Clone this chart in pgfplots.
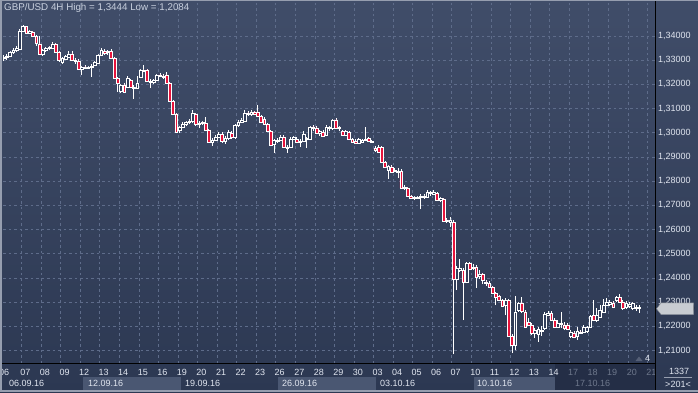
\documentclass[border=0pt]{standalone}
\usepackage{fontspec}
\setmainfont{Liberation Sans}
\usepackage{pgfplots}
\usepackage{pgfplotstable}
\pgfplotsset{compat=1.18}
\definecolor{bgtop}{RGB}{64,77,105}
\definecolor{bgbot}{RGB}{44,56,82}
\definecolor{gridc}{RGB}{94,108,138}
\definecolor{txt}{RGB}{225,230,240}
\definecolor{titletxt}{RGB}{200,208,222}
\definecolor{dimtxt}{RGB}{110,120,140}
\definecolor{boxc}{RGB}{74,87,114}
\definecolor{dimbg}{RGB}{36,46,70}
\definecolor{tagc}{RGB}{200,204,210}
\definecolor{tagborder}{RGB}{120,125,135}
\definecolor{bullfill}{RGB}{50,62,90}
\definecolor{bear}{RGB}{230,20,60}
\definecolor{framec}{RGB}{150,158,175}
\definecolor{tric}{RGB}{85,95,118}
\newcommand{\fsz}{\fontsize{9}{10}\selectfont}

\pgfplotstableread{
k O H L C
0 1.3309 1.3322 1.3297 1.3313
1 1.3313 1.3326 1.3301 1.3317
2 1.3317 1.3338 1.3313 1.3334
3 1.3334 1.3350 1.3326 1.3342
4 1.3342 1.3359 1.3334 1.3350
5 1.3346 1.3429 1.3342 1.3421
6 1.3421 1.3444 1.3417 1.3441
7 1.3441 1.3442 1.3408 1.3413
8 1.3413 1.3425 1.3408 1.3421
9 1.3417 1.3421 1.3396 1.3400
10 1.3400 1.3404 1.3359 1.3371
11 1.3367 1.3400 1.3322 1.3326
12 1.3326 1.3346 1.3317 1.3342
13 1.3342 1.3355 1.3334 1.3350
14 1.3350 1.3359 1.3342 1.3355
15 1.3350 1.3375 1.3346 1.3367
16 1.3367 1.3371 1.3330 1.3334
17 1.3334 1.3338 1.3293 1.3301
18 1.3293 1.3313 1.3284 1.3309
19 1.3305 1.3322 1.3301 1.3317
20 1.3313 1.3338 1.3309 1.3326
21 1.3326 1.3338 1.3297 1.3301
22 1.3301 1.3309 1.3284 1.3297
23 1.3297 1.3305 1.3260 1.3264
24 1.3264 1.3276 1.3239 1.3272
25 1.3272 1.3280 1.3264 1.3268
26 1.3268 1.3276 1.3264 1.3272
27 1.3272 1.3284 1.3231 1.3276
28 1.3280 1.3297 1.3276 1.3293
29 1.3288 1.3326 1.3284 1.3322
30 1.3322 1.3350 1.3317 1.3342
31 1.3338 1.3346 1.3322 1.3330
32 1.3334 1.3342 1.3322 1.3338
33 1.3338 1.3346 1.3305 1.3309
34 1.3309 1.3313 1.3222 1.3226
35 1.3226 1.3231 1.3169 1.3206
36 1.3173 1.3202 1.3164 1.3198
37 1.3198 1.3206 1.3164 1.3169
38 1.3189 1.3235 1.3185 1.3226
39 1.3218 1.3222 1.3185 1.3189
40 1.3189 1.3198 1.3140 1.3185
41 1.3185 1.3235 1.3181 1.3206
42 1.3231 1.3264 1.3226 1.3260
43 1.3255 1.3280 1.3251 1.3260
44 1.3260 1.3264 1.3210 1.3214
45 1.3214 1.3222 1.3185 1.3210
46 1.3210 1.3222 1.3202 1.3218
47 1.3218 1.3243 1.3214 1.3239
48 1.3239 1.3247 1.3231 1.3235
49 1.3235 1.3243 1.3222 1.3231
50 1.3239 1.3251 1.3202 1.3206
51 1.3206 1.3210 1.3127 1.3131
52 1.3131 1.3136 1.3074 1.3078
53 1.3078 1.3082 1.2999 1.3003
54 1.3012 1.3028 1.2999 1.3024
55 1.3024 1.3045 1.3020 1.3036
56 1.3036 1.3049 1.3028 1.3045
57 1.3045 1.3057 1.3036 1.3049
58 1.3049 1.3094 1.3040 1.3082
59 1.3078 1.3082 1.3028 1.3036
60 1.3036 1.3049 1.3020 1.3040
61 1.3040 1.3049 1.3032 1.3045
62 1.3040 1.3065 1.3007 1.3012
63 1.3012 1.3016 1.2958 1.2962
64 1.2962 1.2978 1.2945 1.2970
65 1.2970 1.2991 1.2966 1.2983
66 1.2983 1.3003 1.2978 1.2995
67 1.2995 1.3003 1.2958 1.2966
68 1.2966 1.2987 1.2954 1.2978
69 1.2978 1.3012 1.2970 1.3003
70 1.2999 1.3007 1.2974 1.2983
71 1.2983 1.3036 1.2974 1.3032
72 1.3032 1.3053 1.3024 1.3045
73 1.3045 1.3061 1.3040 1.3053
74 1.3049 1.3094 1.3045 1.3082
75 1.3082 1.3090 1.3069 1.3078
76 1.3078 1.3094 1.3069 1.3086
77 1.3086 1.3090 1.3074 1.3078
78 1.3086 1.3115 1.3065 1.3069
79 1.3069 1.3074 1.3040 1.3045
80 1.3057 1.3065 1.3032 1.3036
81 1.3036 1.3040 1.3003 1.3007
82 1.3007 1.3012 1.2945 1.2950
83 1.2954 1.2974 1.2917 1.2970
84 1.2966 1.2978 1.2958 1.2970
85 1.2970 1.2991 1.2966 1.2983
86 1.2983 1.2991 1.2937 1.2941
87 1.2941 1.2950 1.2917 1.2937
88 1.2941 1.2983 1.2937 1.2974
89 1.2974 1.2987 1.2970 1.2983
90 1.2974 1.2983 1.2958 1.2962
91 1.2962 1.2974 1.2941 1.2966
92 1.2966 1.3007 1.2962 1.2995
93 1.2974 1.2983 1.2937 1.2978
94 1.2974 1.3028 1.2970 1.3024
95 1.3024 1.3032 1.3007 1.3020
96 1.3020 1.3028 1.2995 1.2999
97 1.2999 1.3012 1.2987 1.3007
98 1.3003 1.3012 1.2983 1.2987
99 1.2991 1.3032 1.2987 1.3024
100 1.3020 1.3028 1.3007 1.3024
101 1.3020 1.3057 1.3012 1.3053
102 1.3053 1.3061 1.3016 1.3020
103 1.3020 1.3028 1.3007 1.3024
104 1.3007 1.3012 1.2987 1.2991
105 1.2991 1.3012 1.2987 1.3007
106 1.3003 1.3007 1.2970 1.2974
107 1.2974 1.2978 1.2958 1.2962
108 1.2966 1.2974 1.2954 1.2958
109 1.2958 1.2978 1.2954 1.2974
110 1.2962 1.2974 1.2958 1.2970
111 1.2970 1.3024 1.2966 1.2974
112 1.2978 1.2983 1.2962 1.2966
113 1.2966 1.2970 1.2958 1.2962
114 1.2937 1.2945 1.2921 1.2929
115 1.2941 1.2950 1.2917 1.2921
116 1.2941 1.2945 1.2875 1.2879
117 1.2879 1.2883 1.2855 1.2859
118 1.2846 1.2867 1.2809 1.2863
119 1.2859 1.2867 1.2834 1.2838
120 1.2846 1.2855 1.2838 1.2842
121 1.2842 1.2855 1.2813 1.2838
122 1.2842 1.2850 1.2768 1.2772
123 1.2772 1.2784 1.2764 1.2776
124 1.2772 1.2776 1.2735 1.2739
125 1.2739 1.2743 1.2727 1.2731
126 1.2731 1.2739 1.2722 1.2735
127 1.2731 1.2739 1.2727 1.2735
128 1.2735 1.2747 1.2685 1.2739
129 1.2735 1.2747 1.2727 1.2739
130 1.2735 1.2764 1.2731 1.2755
131 1.2751 1.2760 1.2739 1.2755
132 1.2747 1.2764 1.2743 1.2755
133 1.2751 1.2755 1.2718 1.2722
134 1.2722 1.2735 1.2714 1.2731
135 1.2727 1.2731 1.2631 1.2636
136 1.2640 1.2648 1.2627 1.2636
137 1.2631 1.2652 1.2611 1.2640
138 1.2631 1.2640 1.2084 1.2396
139 1.2396 1.2450 1.2350 1.2441
140 1.2433 1.2479 1.2425 1.2441
141 1.2433 1.2441 1.2226 1.2384
142 1.2384 1.2466 1.2379 1.2462
143 1.2462 1.2466 1.2433 1.2437
144 1.2441 1.2458 1.2433 1.2446
145 1.2446 1.2454 1.2359 1.2404
146 1.2408 1.2433 1.2396 1.2417
147 1.2417 1.2421 1.2375 1.2392
148 1.2384 1.2392 1.2367 1.2379
149 1.2379 1.2388 1.2359 1.2363
150 1.2363 1.2367 1.2334 1.2338
151 1.2338 1.2342 1.2288 1.2321
152 1.2326 1.2330 1.2305 1.2309
153 1.2309 1.2313 1.2280 1.2284
154 1.2288 1.2317 1.2247 1.2309
155 1.2309 1.2313 1.2156 1.2160
156 1.2160 1.2169 1.2090 1.2123
157 1.2123 1.2326 1.2102 1.2260
158 1.2268 1.2301 1.2260 1.2297
159 1.2297 1.2321 1.2255 1.2264
160 1.2260 1.2268 1.2193 1.2197
161 1.2218 1.2235 1.2202 1.2206
162 1.2206 1.2214 1.2164 1.2173
163 1.2173 1.2193 1.2152 1.2185
164 1.2169 1.2197 1.2136 1.2189
165 1.2185 1.2202 1.2160 1.2181
166 1.2193 1.2260 1.2185 1.2251
167 1.2247 1.2264 1.2243 1.2255
168 1.2255 1.2264 1.2222 1.2226
169 1.2226 1.2235 1.2193 1.2197
170 1.2197 1.2226 1.2193 1.2214
171 1.2210 1.2260 1.2193 1.2214
172 1.2206 1.2218 1.2185 1.2193
173 1.2206 1.2214 1.2185 1.2189
174 1.2160 1.2185 1.2152 1.2177
175 1.2173 1.2181 1.2152 1.2156
176 1.2160 1.2197 1.2144 1.2181
177 1.2177 1.2185 1.2169 1.2173
178 1.2177 1.2206 1.2173 1.2197
179 1.2181 1.2202 1.2173 1.2197
180 1.2197 1.2247 1.2193 1.2243
181 1.2247 1.2309 1.2222 1.2226
182 1.2226 1.2276 1.2218 1.2247
183 1.2239 1.2288 1.2235 1.2268
184 1.2260 1.2313 1.2255 1.2288
185 1.2288 1.2317 1.2284 1.2301
186 1.2293 1.2309 1.2284 1.2301
187 1.2297 1.2305 1.2276 1.2280
188 1.2309 1.2326 1.2301 1.2321
189 1.2321 1.2334 1.2297 1.2301
190 1.2301 1.2309 1.2268 1.2276
191 1.2280 1.2305 1.2272 1.2297
192 1.2284 1.2301 1.2276 1.2293
193 1.2276 1.2301 1.2268 1.2297
194 1.2276 1.2288 1.2264 1.2280
195 1.2280 1.2288 1.2255 1.2273
}\candles

\pgfplotsset{
  chartframe/.style={
    at={(3pt,29pt)}, anchor=south west, scale only axis,
    width=652pt, height=361pt,
    xmin=-0.18, xmax=199.82, ymin=1.20488, ymax=1.35405,
  }
}

\begin{document}
\begin{tikzpicture}
% window background
\shade[top color=bgtop, bottom color=bgbot] (0pt,0pt) rectangle (698pt,392pt);
% date boxes in the time scale
\fill[boxc] (83pt,2.5pt) rectangle (181pt,15.5pt);
\fill[boxc] (278pt,2.5pt) rectangle (376pt,15.5pt);
\fill[boxc] (473.5pt,2.5pt) rectangle (555pt,15.5pt);
\fill[dimbg] (555pt,0pt) rectangle (655pt,29pt);
\begin{scope}[every node/.style={anchor=west, inner sep=0pt, font=\fsz, text=txt}]
\node at (9pt,9pt) {06.09.16};
\node at (88pt,9pt) {12.09.16};
\node at (185pt,9pt) {19.09.16};
\node at (282pt,9pt) {26.09.16};
\node at (380pt,9pt) {03.10.16};
\node at (477pt,9pt) {10.10.16};
\node[text=dimtxt] at (575pt,9pt) {17.10.16};
\node[anchor=north west] at (-1pt,23pt) {06};
\end{scope}

% axis 1: grid, scales, wicks
\begin{axis}[chartframe,
  axis line style={draw=none},
  major tick length=0pt,
  xtick={5.5,11.5,...,197.5},
  xticklabels={07,08,09,12,13,14,15,16,19,20,21,22,23,26,27,28,29,30,03,04,05,06,07,10,11,12,13,14,{\color{dimtxt}17},{\color{dimtxt}18},{\color{dimtxt}19},{\color{dimtxt}20},{\color{dimtxt}21}},
  ytick={1.21,1.22,1.23,1.24,1.25,1.26,1.27,1.28,1.29,1.30,1.31,1.32,1.33,1.34},
  yticklabel pos=right,
  grid=major,
  major grid style={draw=gridc, line width=0.7pt, dash pattern=on 2.5pt off 3pt},
  tick label style={font=\fsz, text=txt},
  xticklabel style={anchor=north west, inner sep=0pt, xshift=-1.3pt, yshift=-6pt},
  yticklabel style={anchor=west, inner sep=0pt, xshift=3pt,
    /pgf/number format/.cd, fixed, fixed zerofill, precision=5, use comma, assume math mode=true},
]
\addplot[draw=none, mark=none, forget plot,
  error bars/.cd, y dir=plus, y explicit, error mark=none,
  error bar style={draw=white, solid, line width=1pt}]
  table[x=k, y=L, y error expr=\thisrow{H}-\thisrow{L}] \candles;
\end{axis}

% axis 2: candle bodies
\begin{axis}[chartframe, hide axis, ybar stacked, bar width=0.85, clip mode=individual]
\addplot[draw=none, fill=none] table[x=k, y expr={min(\thisrow{O},\thisrow{C})}] \candles;
\addplot[draw=white, fill=bullfill, line width=0.6pt] table[x=k, y expr={max(\thisrow{C}-\thisrow{O},0)}] \candles;
\addplot[draw=white, fill=bear, line width=0.6pt] table[x=k, y expr={max(\thisrow{O}-\thisrow{C},0)}] \candles;
% current price tag
\draw[fill=tagc, draw=tagborder, line width=0.4pt] (axis cs:199.82,1.2273) ++(1.5pt,0pt) -- ++(4.5pt,5.8pt) -- ++(32.5pt,0pt) -- ++(0pt,-11.6pt) -- ++(-32.5pt,0pt) -- cycle;
\node[anchor=west, inner sep=0pt, font=\fsz, text=black] at ([xshift=6.8pt]axis cs:199.82,1.2273) {1,22730};
\end{axis}

% separators
\draw[black, line width=1pt] (655pt,0pt) -- (655pt,392pt);
\draw[black, line width=1pt] (0pt,29pt) -- (655pt,29pt);
% title
\node[anchor=west, inner sep=0pt, font=\fontsize{9.8}{11}\selectfont, text=titletxt] at (4pt,384pt) {GBP/USD 4H High = 1,3444 Low = 1,2084};
% bottom-right marker
\fill[tric] (635.5pt,31pt) -- (642.5pt,31pt) -- (639pt,35.5pt) -- cycle;
\node[anchor=west, inner sep=0pt, font=\fsz, text=txt] at (645pt,33.5pt) {4};
% right panel counters
\node[inner sep=0pt, font=\fsz, text=txt] at (679pt,21pt) {1337};
\draw[framec, line width=0.6pt] (664pt,14.5pt) -- (692pt,14.5pt);
\node[inner sep=0pt, font=\fsz, text=txt] at (678pt,8pt) {>201<};
% window frame
\fill[framec] (0pt,0pt) rectangle (1.5pt,392pt);
\fill[framec] (0pt,391pt) rectangle (698pt,392pt);
\fill[framec] (0pt,0pt) rectangle (698pt,1.8pt);
\pgfresetboundingbox
\useasboundingbox (0pt,0pt) rectangle (698pt,392pt);
\end{tikzpicture}
\end{document}
